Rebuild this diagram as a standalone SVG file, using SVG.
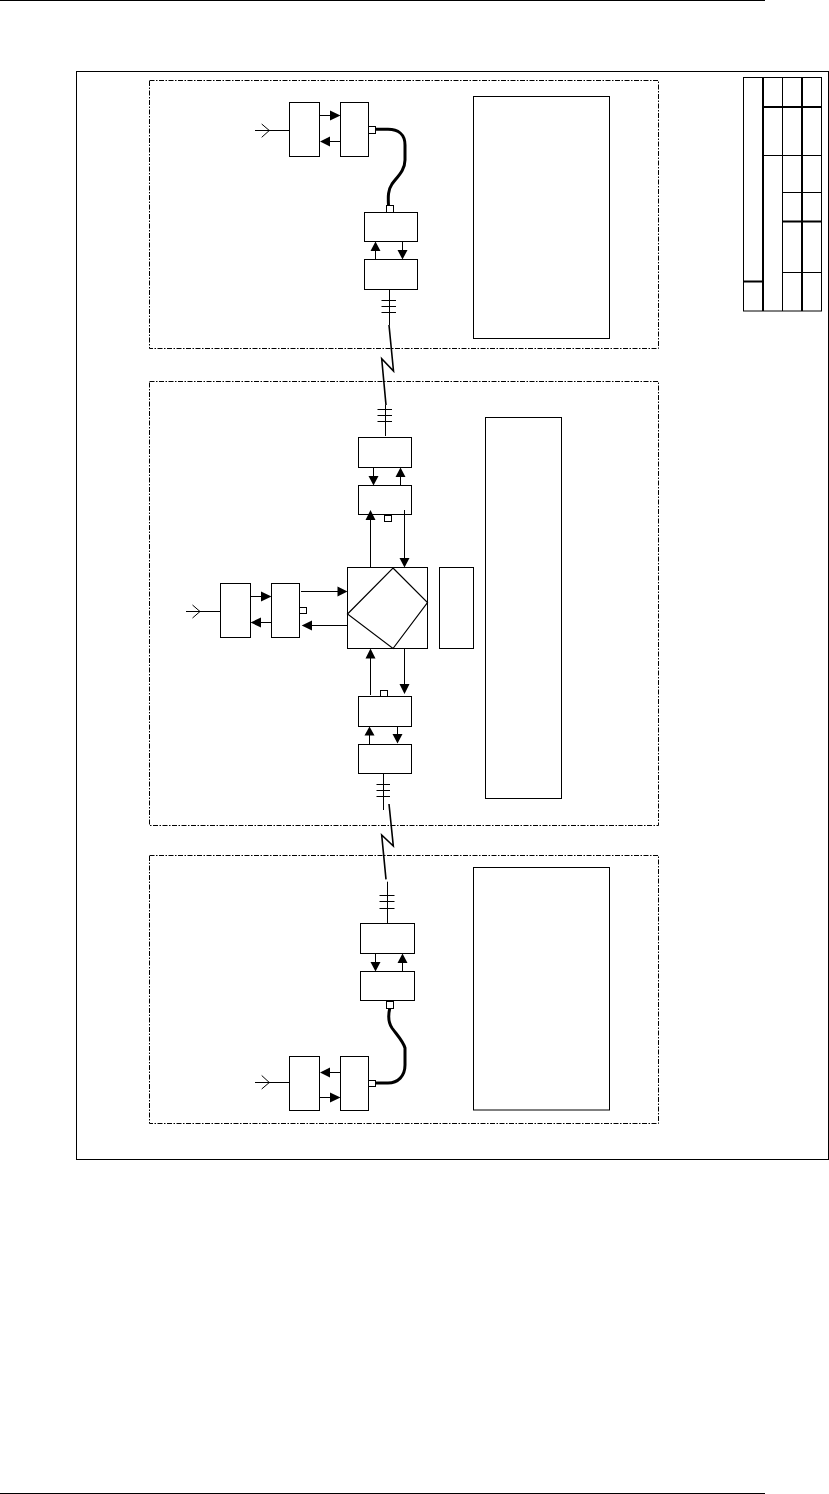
<svg xmlns="http://www.w3.org/2000/svg" width="829" height="1494" viewBox="0 0 829 1494">
<style>
.b{fill:#fff;stroke:#000;stroke-width:1}
.d{fill:none;stroke:#000;stroke-width:1;stroke-dasharray:5 1.5 1.5 1.5}
.l{fill:none;stroke:#000;stroke-width:1}
.t{fill:none;stroke:#000;stroke-width:2}
.z{fill:none;stroke:#000;stroke-width:1.6}
.c{fill:none;stroke:#000;stroke-width:3}
.h{fill:#000;stroke:none}
</style>
<rect width="829" height="1494" fill="#fff"/>
<g id="page-rules">
<path class="l" d="M0 0.500H765M0 1493.500H765"/>
</g>
<g id="frame"><rect class="l" x="76.500" y="71.500" width="752" height="1088"/></g>
<g id="zone-top"><rect class="d" x="149.500" y="80.500" width="509" height="268"/></g>
<g id="zone-middle"><rect class="d" x="149.500" y="381.500" width="509" height="444"/></g>
<g id="zone-bottom"><rect class="d" x="149.500" y="855.500" width="509" height="268"/></g>

<g id="table">
<rect class="l" x="743.500" y="77.500" width="78" height="233.500"/>
<path class="l" d="M782.500 77.500V311M763 155.500H821.500M782.500 192.500H821.500M782.500 272.500H821.500"/>
<path class="t" d="M763 77.500V311M802 77.500V311M763 107H821.500M782.500 221.500H821.500M743.500 281.500H763"/>
</g>

<g id="node-t1"><rect class="b" x="289.500" y="102.500" width="30" height="54"/></g>
<g id="node-t2"><rect class="b" x="340.500" y="102.500" width="28" height="54"/><rect class="b" x="368.500" y="126.500" width="7" height="7"/></g>
<g id="node-t3"><rect class="b" x="364.500" y="212.500" width="53" height="29"/><rect class="b" x="386.500" y="205.500" width="7" height="7"/></g>
<g id="node-t4"><rect class="b" x="364.500" y="259.500" width="53" height="30"/></g>
<g id="node-t-note"><rect class="b" x="473.500" y="96.500" width="136" height="242"/></g>

<g id="node-m1"><rect class="b" x="358.500" y="437.500" width="53" height="30"/></g>
<g id="node-m2"><rect class="b" x="358.500" y="485.500" width="53" height="29"/><rect class="b" x="384.500" y="515.500" width="7" height="6"/></g>
<g id="node-m-note"><rect class="b" x="485.500" y="417.500" width="76" height="381"/></g>
<g id="node-m3"><rect class="b" x="220.500" y="583.500" width="30" height="54"/></g>
<g id="node-m4"><rect class="b" x="271.500" y="583.500" width="28" height="54"/><rect class="b" x="299.500" y="607.500" width="7" height="6"/></g>
<g id="node-m5"><rect class="b" x="347.500" y="567.500" width="80" height="81"/><path class="l" d="M393 568L427.500 602.500L393 648.500L347.500 614Z" style="stroke-width:1.2"/></g>
<g id="node-m6"><rect class="b" x="439.500" y="567.500" width="34" height="81"/></g>
<g id="node-m7"><rect class="b" x="358.500" y="696.500" width="53" height="30"/><rect class="b" x="380.500" y="690.500" width="7" height="6"/></g>
<g id="node-m8"><rect class="b" x="358.500" y="744.500" width="53" height="29"/></g>

<g id="node-b1"><rect class="b" x="360.500" y="923.500" width="54" height="30"/></g>
<g id="node-b2"><rect class="b" x="360.500" y="971.500" width="54" height="29"/><rect class="b" x="386.500" y="1001.500" width="7" height="7"/></g>
<g id="node-b3"><rect class="b" x="289.500" y="1056.500" width="30" height="54"/></g>
<g id="node-b4"><rect class="b" x="340.500" y="1056.500" width="28" height="54"/><rect class="b" x="368.500" y="1080.500" width="7" height="6"/></g>
<g id="node-b-note"><rect class="b" x="473.500" y="867.500" width="136" height="242.500"/></g>

<g id="connectors">
<path class="l" d="M255 130.500H289.500M261.700 124L269.300 130.500L261.700 137.300"/>
<path class="l" d="M320 115.500H332M330 141.500H340.500"/>
<path class="h" d="M330 110.500L340.500 115.500L330 120.500ZM320 141.500L330 136.500V146.500Z"/>
<path class="c" d="M375.700 129.300H388C398 129.300 405 134 405 145V160C405 170 398 176 392 184C388 190 388 196 388.500 205.500"/>
<path class="l" d="M375.500 259.500V250M402.500 241.500V250"/>
<path class="h" d="M375.500 241.500L380.500 251H370.500ZM402.500 259.500L397.500 250H407.500Z"/>
<path class="l" d="M389.500 289.500V325M381.500 300.500H396M381.500 306.500H396M381.500 312.500H396"/>
<path class="z" d="M389 325L393.500 371L381.700 358.700L386 405"/>
<path class="l" d="M385.500 405V436M377.500 409.500H392M377.500 415.500H392M377.500 421.500H392"/>

<path class="l" d="M373.500 467.500V477M400.500 485.500V476"/>
<path class="h" d="M373.500 485.500L368.500 476H378.500ZM400.500 467.500L405.500 477H395.500Z"/>
<path class="l" d="M370.500 567.500V518M404.500 510V558"/>
<path class="h" d="M370.500 510L375.500 520H365.500ZM404.500 567.500L399.500 558H409.500Z"/>

<path class="l" d="M186 611.500H220.500M192.500 605L200 611.500L192.500 618"/>
<path class="l" d="M250.500 596.500H262M271.500 622.500H260"/>
<path class="h" d="M271.500 596.500L261 591.500V601.500ZM250.500 622.500L261 617.500V627.500Z"/>
<path class="l" d="M301 591.500H338M347.500 625.500H311"/>
<path class="h" d="M347.500 591.500L337.500 586.500V596.500ZM301.700 625.500L312 620.500V630.500Z"/>

<path class="l" d="M370.500 695V658M404.500 648.500V685"/>
<path class="h" d="M370.500 648.500L375.500 658.500H365.500ZM404.500 694L399.500 684H409.500Z"/>
<path class="l" d="M369.500 744.500V735M397.500 726.500V735"/>
<path class="h" d="M369.500 726.500L374.500 735.500H364.500ZM397.500 743.500L392.500 734H402.500Z"/>
<path class="l" d="M383.500 773.500V810M376.500 784.500H390M376.500 790.500H390M376.500 796.500H390"/>
<path class="z" d="M389 804L393.300 846L381.700 835L386 879.300"/>
<path class="l" d="M387.500 881.700V923.500M379.500 895.500H394.500M379.500 901.500H394.500M379.500 908.500H394.500"/>

<path class="l" d="M375.500 953.500V962M402.500 971.500V962"/>
<path class="h" d="M375.500 971.500L370.500 962H380.500ZM402.500 953.500L407.500 963H397.500Z"/>
<path class="c" d="M389.700 1008.700C388 1016 388 1022 392 1028C397 1035 403 1041 405 1048V1065C405 1076 398 1083 388 1083H375.700"/>
<path class="l" d="M255 1082.500H289.500M261.700 1075.500L269.300 1082.500L261.700 1089"/>
<path class="l" d="M340.500 1072.500H330M320 1097.500H331"/>
<path class="h" d="M320 1072.500L330 1067.500V1077.500ZM340.500 1097.500L330 1092.500V1102.500Z"/>
</g>
</svg>
